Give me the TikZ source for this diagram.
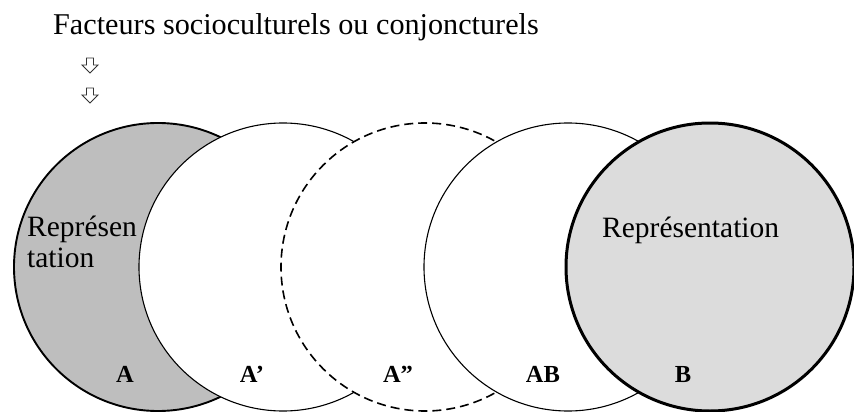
\documentclass[tikz,border=0pt]{standalone}
\usepackage{fontspec}
\setmainfont{Liberation Serif}
\definecolor{grisA}{HTML}{BEBEBE}
\definecolor{grisB}{HTML}{DCDCDC}
\tikzset{
    cercle/.style={circle, minimum size=288pt, inner sep=0pt, fill=white, draw},
    lettre/.style={font=\fontsize{24.5}{24.5}\selectfont\bfseries, anchor=base, inner sep=0pt},
    texte/.style={font=\fontsize{29.5}{31}\selectfont, anchor=base west, inner sep=0pt},
    fleche/.style={draw=black!80, line width=0.9pt, fill=white}
}
\begin{document}
\begin{tikzpicture}[x=1pt, y=1pt]

    \useasboundingbox (0,0) rectangle (854,-412);

    % Titre
    \node[texte, font=\fontsize{30.2}{31}\selectfont] (titre) at (53,-35) {Facteurs socioculturels ou conjoncturels};

    % Flèches
    \foreach \y in {58,88} {
        \draw[fleche] (86.5,-\y) -- (93.5,-\y) -- (93.5,-\y-7) -- (98,-\y-7)
            -- (90,-\y-15) -- (82,-\y-7) -- (86.5,-\y-7) -- cycle;
    }

    % Cercles
    \node[cercle, fill=grisA, line width=1.9pt] (A) at (158,-267) {};
    \node[cercle, line width=1.1pt] (A1) at (283,-267) {};
    \node[cercle, dash pattern=on 9pt off 5pt, line width=1.6pt] (A2) at (425,-267) {};
    \node[cercle, line width=1.1pt] (AB) at (568,-267) {};
    \node[cercle, fill=grisB, line width=3pt] (B) at (710,-267) {};

    % Textes
    \node[texte, align=left] (repA) at (27,-267) {Représen\\tation};
    \node[texte] (repB) at (602,-237) {Représentation};

    % Labels
    \node[lettre] (lA) at (125,-382) {A};
    \node[lettre] (lA1) at (252,-382) {A’};
    \node[lettre] (lA2) at (398,-382) {A”};
    \node[lettre] (lAB) at (543,-382) {AB};
    \node[lettre] (lB) at (683,-382) {B};

\end{tikzpicture}
\end{document}
